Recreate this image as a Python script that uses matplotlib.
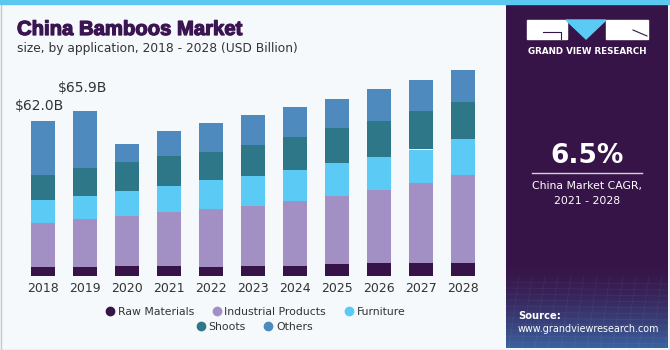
import numpy as np
import matplotlib
matplotlib.use('Agg')
import matplotlib.pyplot as plt
import matplotlib.patheffects as pe
from matplotlib.lines import Line2D
from matplotlib.patches import Rectangle, Polygon

years = ['2018', '2019', '2020', '2021', '2022', '2023', '2024', '2025', '2026', '2027', '2028']
raw_materials = [3.6, 3.6, 4.1, 4.1, 3.6, 4.1, 4.1, 4.7, 5.2, 5.2, 5.2]
industrial = [17.6, 19.2, 20.1, 21.6, 23.2, 24.0, 25.9, 27.3, 29.3, 32.1, 35.1]
furniture = [9.2, 9.1, 9.7, 10.5, 11.5, 12.1, 12.5, 13.3, 13.3, 13.3, 14.5]
shoots = [10.0, 11.3, 11.6, 11.7, 11.3, 12.1, 13.1, 13.9, 14.3, 15.3, 14.9]
others = [21.6, 22.7, 7.3, 10.3, 11.5, 12.3, 12.0, 11.6, 12.7, 12.7, 12.9]
labels = ['Raw Materials', 'Industrial Products', 'Furniture', 'Shoots', 'Others']
callouts = {0: '$62.0B', 1: '$65.9B'}

colors = ['#371448', '#A28FC4', '#5BCBF5', '#2E7789', '#4E8ABE']
bg = '#F5F9FC'
W, H = 670, 350

fig = plt.figure(figsize=(6.7, 3.5), dpi=100, facecolor=bg)

def fx(px):
    return px / W

def fy(py):
    return 1 - py / H

# main chart
ax = fig.add_axes([fx(22), fy(276), 462 / W, 216 / H])
ax.set_facecolor('none')
x = np.arange(len(years))
series = [raw_materials, industrial, furniture, shoots, others]
bottom = np.zeros(len(years))
for vals, c in zip(series, colors):
    ax.bar(x, vals, width=24 / 42, bottom=bottom, color=c, linewidth=0)
    bottom += np.array(vals)

ax.set_xlim(-0.5, len(years) - 0.5)
ax.set_ylim(0, 86.4)
ax.set_xticks(x)
ax.set_xticklabels(years, fontsize=9, color='#333333')
ax.tick_params(axis='x', length=0, pad=4)
ax.set_yticks([])
for s in ax.spines.values():
    s.set_visible(False)

offsets = {0: (-4, 8), 1: (-2, 16)}
for i, txt in callouts.items():
    ax.annotate(txt, (x[i], bottom[i]), xytext=offsets[i], textcoords='offset pixels',
                ha='center', va='bottom', fontsize=10, color='#333333')

# titles
fig.text(fx(17), fy(35), 'China Bamboos Market', fontsize=14.6, fontweight='bold',
         color='#3B1551', va='baseline', family='Liberation Sans',
         path_effects=[pe.withStroke(linewidth=0.9, foreground='#3B1551')])
fig.text(fx(17), fy(52), 'size, by application, 2018 - 2028 (USD Billion)', fontsize=8.8,
         color='#333333', va='baseline')

# legend
handles = [Line2D([], [], marker='o', linestyle='', markersize=6, color=c) for c in colors]
fig.legend(handles[:3], labels[:3], loc='center', bbox_to_anchor=(fx(255), fy(312)),
           ncol=3, frameon=False, fontsize=7.8, handletextpad=0.2, columnspacing=1.6,
           handlelength=1.0, labelcolor='#333333', borderpad=0)
fig.legend(handles[3:], labels[3:], loc='center', bbox_to_anchor=(fx(254), fy(327)),
           ncol=2, frameon=False, fontsize=7.8, handletextpad=0.2, columnspacing=1.6,
           handlelength=1.0, labelcolor='#333333', borderpad=0)

# right panel
pa = fig.add_axes([fx(506), fy(348), 162 / W, 344 / H])
pa.set_xlim(506, 668)
pa.set_ylim(348, 4)
pa.axis('off')
pa.add_patch(Rectangle((506, 4), 162, 344, color='#371448', zorder=0))
grad = np.linspace(0, 1, 100)[:, None]
c0 = np.array([0x37, 0x14, 0x48]) / 255
c1 = np.array([0x3A, 0x62, 0xA0]) / 255
img = c0 + (c1 - c0) * grad[..., None] ** 1.6
img = np.repeat(img, 2, axis=1)
pa.imshow(img, extent=[506, 668, 348, 262], aspect='auto', zorder=1)
for k in range(12):
    yy = 282 + k * 6
    pa.plot([506, 668], [yy, yy + 2], color='white', alpha=0.05, lw=0.6, zorder=2)
for k in range(14):
    xx = 506 + k * 13
    pa.plot([xx, xx - 10], [275, 348], color='white', alpha=0.05, lw=0.6, zorder=2)

# logo
pa.add_patch(Rectangle((527, 20), 40, 19, color='white', zorder=3))
pa.add_patch(Rectangle((606, 20), 42, 19, color='white', zorder=3))
pa.add_patch(Polygon([(566, 20), (606, 20), (586, 39)], color='#5BCBF5', zorder=4))
pa.plot([543, 561, 561], [32, 32, 39], color='#371448', lw=0.8, zorder=5)
pa.plot([633, 647], [30, 36], color='#371448', lw=0.8, zorder=5)
pa.text(587, 51, 'GRAND VIEW RESEARCH', color='white', fontsize=6.3, fontweight='bold',
        ha='center', va='center', zorder=5)

pa.text(587, 156, '6.5%', color='white', fontsize=19, fontweight='bold',
        ha='center', va='center', zorder=5)
pa.plot([532, 642], [173, 173], color='#D8CFE0', lw=1, zorder=5)
pa.text(587, 186, 'China Market CAGR,', color='white', fontsize=7.8, ha='center',
        va='center', zorder=5)
pa.text(587, 201, '2021 - 2028', color='white', fontsize=7.8, ha='center',
        va='center', zorder=5)
pa.text(518, 316, 'Source:', color='white', fontsize=7.2, fontweight='bold',
        va='center', zorder=5)
pa.text(518, 329, 'www.grandviewresearch.com', color='white', fontsize=6.9,
        va='center', zorder=5)

# frame and top strip
fig.patches.append(Rectangle((0, fy(4)), 1, 4 / H, transform=fig.transFigure,
                             color='#5BC8F0', zorder=10))
fig.patches.append(Rectangle((0.5 / W, 0.5 / H), 1 - 1 / W, 1 - 1 / H, transform=fig.transFigure,
                             fill=False, edgecolor='#C8C8C8', lw=1, zorder=9))

fig.savefig('out.png', dpi=100, facecolor=bg)
